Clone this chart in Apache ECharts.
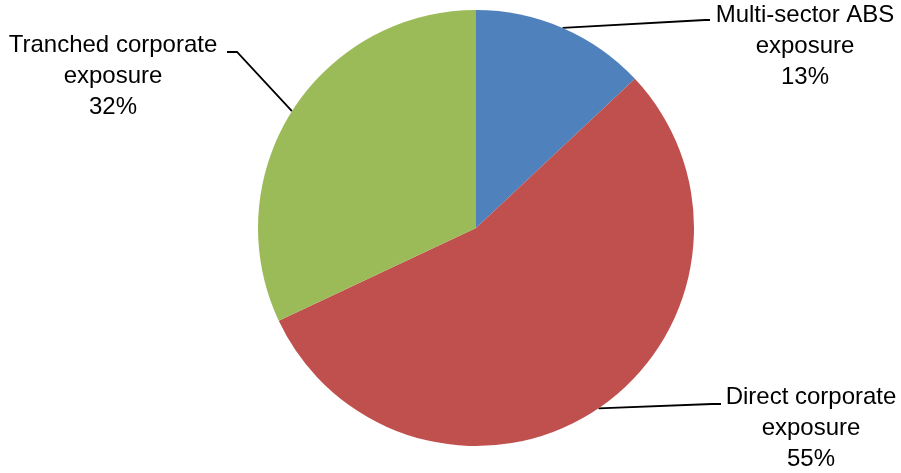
<!DOCTYPE html>
<html>
<head>
<meta charset="utf-8">
<script src="https://cdn.jsdelivr.net/npm/echarts@6/dist/echarts.min.js"></script>
<style>
  html, body { margin: 0; padding: 0; background: #fff; }
  #chart { width: 901px; height: 473px; }
</style>
</head>
<body>
<div id="chart"></div>
<script>
// Exposure breakdown
const categories = ['Multi-sector ABS exposure', 'Direct corporate exposure', 'Tranched corporate exposure'];
const shares = [13, 55, 32];
const sliceColors = ['#4F81BD', '#C0504D', '#9BBB59'];

// Where each label block sits, and the bend points of its leader line
const labelPlacement = [
  { x: 805, y: 46, elbow: [705, 20], end: [710, 20] },
  { x: 811, y: 428, elbow: [712, 404], end: [721, 404] },
  { x: 113, y: 76, elbow: [237, 52], end: [227, 52] }
];

const chart = echarts.init(document.getElementById('chart'), null, { renderer: 'canvas' });

chart.setOption({
  backgroundColor: '#ffffff',
  animation: false,
  series: [{
    type: 'pie',
    center: [476, 228],
    radius: 218,
    startAngle: 90,
    clockwise: true,
    avoidLabelOverlap: false,
    data: categories.map((name, i) => ({
      name: name,
      value: shares[i],
      itemStyle: { color: sliceColors[i] }
    })),
    itemStyle: { borderWidth: 0 },
    emphasis: { disabled: true },
    label: {
      show: true,
      position: 'outside',
      color: '#000',
      fontFamily: '"Liberation Sans", Arial, sans-serif',
      fontSize: 24,
      lineHeight: 31,
      align: 'center',
      formatter: (p) => p.name.replace(/ exposure$/, '\nexposure') + '\n' + Math.round(p.percent) + '%'
    },
    labelLine: {
      show: true,
      smooth: false,
      lineStyle: { color: '#000', width: 1.8 }
    },
    labelLayout: (params) => {
      const pl = labelPlacement[params.dataIndex];
      const anchor = params.labelLinePoints ? params.labelLinePoints[0] : pl.elbow;
      return {
        x: pl.x,
        y: pl.y,
        align: 'center',
        verticalAlign: 'middle',
        labelLinePoints: [anchor, pl.elbow, pl.end]
      };
    }
  }]
});
</script>
</body>
</html>
